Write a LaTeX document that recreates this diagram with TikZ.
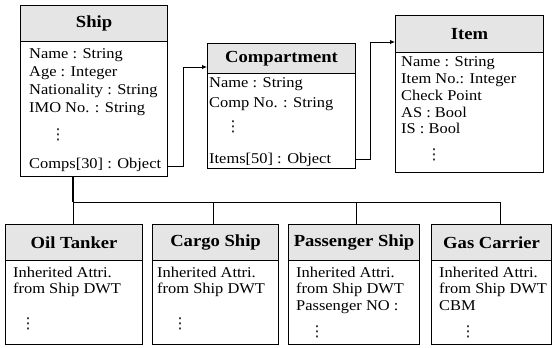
\documentclass[tikz,border=0pt]{standalone}
\usepackage{fontspec}
\setmainfont[FakeStretch=1.1]{Liberation Serif}
\newfontfamily\dotfont{DejaVu Sans}
\usetikzlibrary{arrows.meta}
\begin{document}
\begin{tikzpicture}[x=1bp,y=-1bp,
  boxframe/.style={draw, line width=1.1bp, anchor=north west, inner sep=0, fill=none},
  hdr/.style={draw, line width=1.1bp, anchor=north west, inner sep=0, fill=gray!20,
     font=\fontsize{17}{19}\selectfont\bfseries},
  attr/.style={anchor=base west, inner sep=0, font=\fontsize{15}{17}\selectfont},
  vdot/.style={inner sep=0, font=\dotfont\fontsize{15}{17}\selectfont},
  conn/.style={draw, line width=0.9bp},
  arr/.style={-{Latex[length=5bp,width=4.5bp]}}
]
\useasboundingbox (0,0) rectangle (553,347);

% ---------- Ship ----------
\node[hdr, minimum width=147bp, minimum height=36bp] (shipH) at (20,5) {Ship};
\node[boxframe, minimum width=147bp, minimum height=171bp] (ship) at (20,5) {};
\node[attr] (s1) at (29,58) {Name : String};
\node[attr] (s2) at (29,76) {Age : Integer};
\node[attr] (s3) at (29,94) {Nationality : String};
\node[attr] (s4) at (29,112) {IMO No. : String};
\node[vdot] (s5) at (58,135) {⋮};
\node[attr] (s6) at (29,168) {Comps[30] : Object};

% ---------- Compartment ----------
\node[hdr, minimum width=148bp, minimum height=30bp] (compH) at (207,43) {Compartment};
\node[boxframe, minimum width=148bp, minimum height=125bp] (comp) at (207,43) {};
\node[attr] (c1) at (209,87) {Name : String};
\node[attr] (c2) at (209,107) {Comp No. : String};
\node[vdot] (c3) at (233,127) {⋮};
\node[attr] (c4) at (209,163) {Items[50] : Object};

% ---------- Item ----------
\node[hdr, minimum width=148bp, minimum height=37bp] (itemH) at (395,15) {Item};
\node[boxframe, minimum width=148bp, minimum height=157bp] (item) at (395,15) {};
\node[attr] (i1) at (401,66) {Name : String};
\node[attr] (i2) at (401,83) {Item No.: Integer};
\node[attr] (i3) at (401,100) {Check Point};
\node[attr] (i4) at (401,117) {AS : Bool};
\node[attr] (i5) at (401,133) {IS : Bool};
\node[vdot] (i6) at (434,155) {⋮};

% ---------- Subclasses ----------
\node[hdr, minimum width=137bp, minimum height=36bp] (oilH) at (5,224) {Oil Tanker};
\node[boxframe, minimum width=137bp, minimum height=120bp] (oil) at (5,224) {};
\node[attr] (o1) at (13,277) {Inherited Attri.};
\node[attr] (o2) at (13,293) {from Ship DWT};
\node[vdot] (o3) at (28,324) {⋮};

\node[hdr, minimum width=126bp, minimum height=36bp] (cargoH) at (152,224) {Cargo Ship};
\node[boxframe, minimum width=126bp, minimum height=120bp] (cargo) at (152,224) {};
\node[attr] (g1) at (157,277) {Inherited Attri.};
\node[attr] (g2) at (157,293) {from Ship DWT};
\node[vdot] (g3) at (180,324) {⋮};

\node[hdr, minimum width=131bp, minimum height=36bp] (passH) at (288,224) {Passenger Ship};
\node[boxframe, minimum width=131bp, minimum height=120bp] (pass) at (288,224) {};
\node[attr] (p1) at (296,277) {Inherited Attri.};
\node[attr] (p2) at (296,293) {from Ship DWT};
\node[attr] (p3) at (296,310) {Passenger NO :};
\node[vdot] (p4) at (317,332) {⋮};

\node[hdr, minimum width=120bp, minimum height=36bp] (gasH) at (431,224) {Gas Carrier};
\node[boxframe, minimum width=120bp, minimum height=120bp] (gas) at (431,224) {};
\node[attr] (q1) at (439,277) {Inherited Attri.};
\node[attr] (q2) at (439,293) {from Ship DWT};
\node[attr] (q3) at (439,310) {CBM};
\node[vdot] (q4) at (468,332) {⋮};

% ---------- Association connectors ----------
\coordinate (a1) at (167,166);
\coordinate (j1) at (183,67);
\draw[conn, arr] (a1) -| (j1) -- (j1 -| comp.west);

\coordinate (a2) at (355,159);
\coordinate (j2) at (370,42);
\draw[conn, arr] (a2) -| (j2) -- (j2 -| item.west);

% ---------- Inheritance tree ----------
\coordinate (t0) at (73,202);
\coordinate (dO) at (73,224);
\coordinate (dC) at (213,224);
\coordinate (dP) at (356,224);
\coordinate (dG) at (500,224);
\draw[conn, line width=1.2bp] (t0 |- ship.south) -- (t0);
\draw[conn] (t0) -- (t0 -| dG);
\draw[conn] (dO |- t0) -- (dO);
\draw[conn] (dC |- t0) -- (dC);
\draw[conn] (dP |- t0) -- (dP);
\draw[conn] (dG |- t0) -- (dG);
\end{tikzpicture}
\end{document}
